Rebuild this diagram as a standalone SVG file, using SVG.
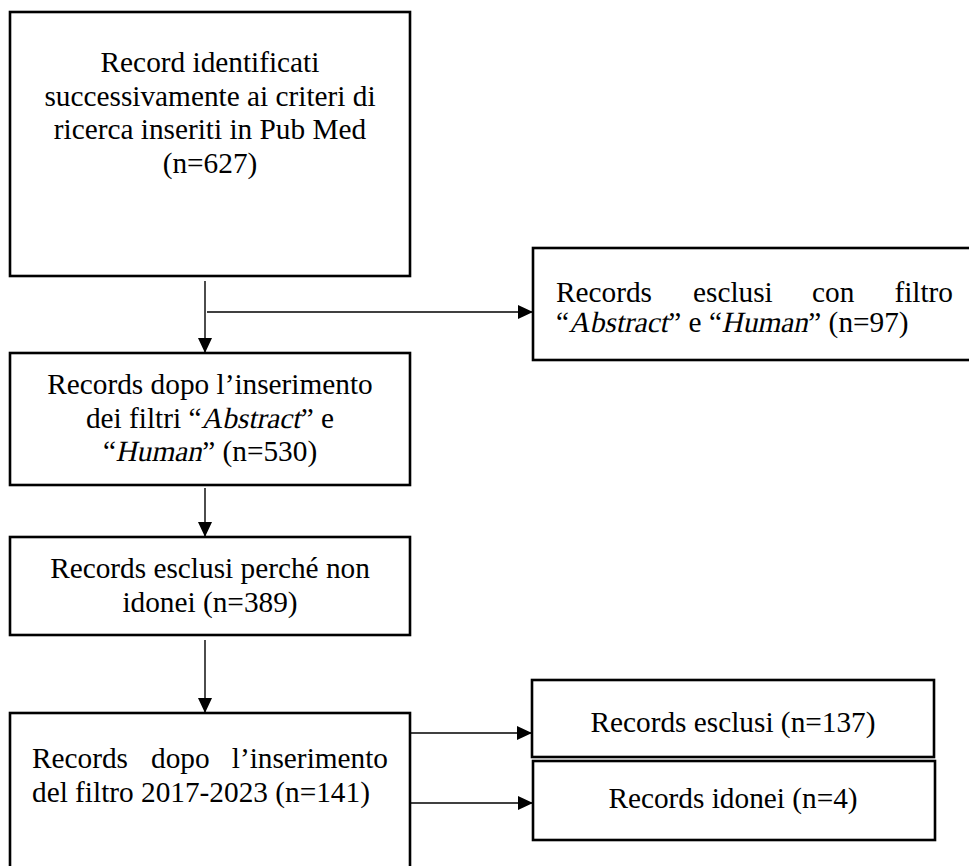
<svg xmlns="http://www.w3.org/2000/svg" width="969" height="866" viewBox="0 0 969 866">
<style>
.box{fill:#fff;stroke:#000;stroke-width:2.6}
.t{font-family:"Liberation Serif","Times New Roman",serif;font-size:29.3px;fill:#000}
.c{text-anchor:middle}
.e{text-anchor:end}
.ln{stroke:#000;stroke-width:1.4;fill:none}
</style>
<defs>
<marker id="ah" markerWidth="16" markerHeight="16" refX="15" refY="7" orient="auto" markerUnits="userSpaceOnUse">
<path d="M0,0 L15,7 L0,14 z" fill="#000"/>
</marker>
</defs>
<rect width="969" height="866" fill="#fff"/>
<g id="connectors">
<line class="ln" x1="205" y1="281" x2="205" y2="353" marker-end="url(#ah)"/>
<line class="ln" x1="207" y1="312" x2="533" y2="312" marker-end="url(#ah)"/>
<line class="ln" x1="205" y1="488" x2="205" y2="537" marker-end="url(#ah)"/>
<line class="ln" x1="205" y1="640" x2="205" y2="713" marker-end="url(#ah)"/>
<line class="ln" x1="410" y1="733" x2="532" y2="733" marker-end="url(#ah)"/>
<line class="ln" x1="410" y1="803" x2="533" y2="803" marker-end="url(#ah)"/>
</g>
<g id="n1">
<rect class="box" x="10" y="12" width="400" height="264"/>
<text class="t c" x="210" y="72">Record identificati</text>
<text class="t c" x="210" y="106">successivamente ai criteri di</text>
<text class="t c" x="210" y="139">ricerca inseriti in Pub Med</text>
<text class="t c" x="210" y="173">(n=627)</text>
</g>
<g id="n2">
<rect class="box" x="533" y="248" width="450" height="112"/>
<text class="t" x="556" y="302">Records</text>
<text class="t" x="693" y="302">esclusi</text>
<text class="t" x="812" y="302">con</text>
<text class="t e" x="953" y="302">filtro</text>
<text class="t" x="556" y="332">“</text>
<text class="t" transform="translate(568.5,332) skewX(-12)" x="0" y="0">Abstract</text>
<text class="t" x="668.3" y="332">” e “</text>
<text class="t" transform="translate(721.5,332) skewX(-12)" x="0" y="0">Human</text>
<text class="t" x="808.3" y="332">” (n=97)</text>
</g>
<g id="n3">
<rect class="box" x="10" y="353" width="400" height="132"/>
<text class="t c" x="210" y="394">Records dopo l’inserimento</text>
<text class="t" x="85.9" y="428">dei filtri “</text>
<text class="t" transform="translate(201,428) skewX(-12)" x="0" y="0">Abstract</text>
<text class="t" x="300.8" y="428">” e</text>
<text class="t" x="102.9" y="461">“</text>
<text class="t" transform="translate(115.4,461) skewX(-12)" x="0" y="0">Human</text>
<text class="t" x="202.2" y="461">” (n=530)</text>
</g>
<g id="n4">
<rect class="box" x="10" y="537" width="400" height="98"/>
<text class="t c" x="210" y="578">Records esclusi perché non</text>
<text class="t c" x="210" y="612">idonei (n=389)</text>
</g>
<g id="n5">
<rect class="box" x="10" y="713" width="400" height="170"/>
<text class="t" x="32" y="768">Records</text>
<text class="t" x="151" y="768">dopo</text>
<text class="t e" x="388" y="768">l’inserimento</text>
<text class="t" x="32" y="802">del filtro 2017-2023 (n=141)</text>
</g>
<g id="n6">
<rect class="box" x="532" y="680" width="402" height="77"/>
<text class="t c" x="733" y="732">Records esclusi (n=137)</text>
</g>
<g id="n7">
<rect class="box" x="533" y="761" width="402" height="79"/>
<text class="t c" x="733" y="808">Records idonei (n=4)</text>
</g>
</svg>
